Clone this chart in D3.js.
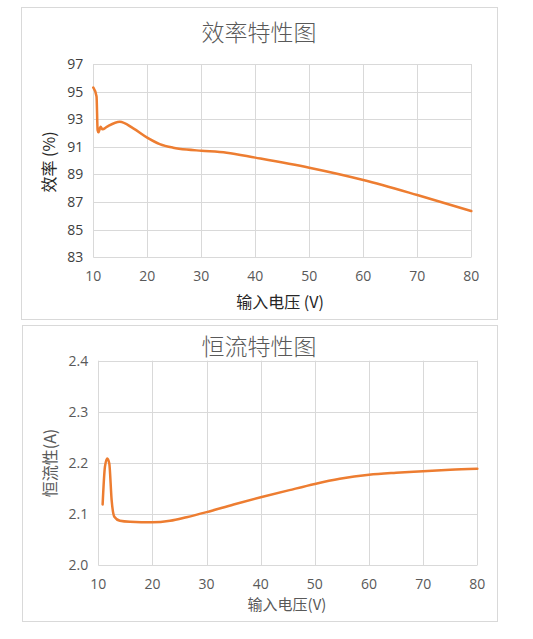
<!DOCTYPE html>
<html>
<head>
<meta charset="utf-8">
<script src="https://cdn.jsdelivr.net/npm/d3@7"></script>
<style>
  body { margin: 0; background: #fff; }
  text { font-family: "Open Sans", "Noto Sans CJK SC", sans-serif; }
</style>
</head>
<body>
<svg class="chart" width="533" height="639"></svg>
<script>
// efficiency curve (top)
var effVolts = [10, 10.6, 10.8, 10.95, 11.35, 11.7, 12.5, 14.9, 17.4, 19.9, 22.3, 24.8, 27.3, 30, 34.7, 40, 50, 60, 70, 80];
var effValues = [95.3, 94.65, 92.2, 92.05, 92.45, 92.27, 92.45, 92.82, 92.34, 91.69, 91.2, 90.94, 90.8, 90.72, 90.58, 90.22, 89.49, 88.6, 87.51, 86.35];
var effTicks = [83, 85, 87, 89, 91, 93, 95, 97];

// constant current curve (bottom)
var ccVolts = [10.8, 11.23, 11.66, 12.03, 12.46, 12.96, 14, 15.85, 20, 23.24, 26.3, 30, 35, 40, 45.3, 50, 54.6, 60, 65, 70, 75, 80];
var ccValues = [2.119, 2.193, 2.209, 2.199, 2.128, 2.095, 2.087, 2.085, 2.084, 2.087, 2.094, 2.104, 2.119, 2.133, 2.147, 2.159, 2.169, 2.177, 2.181, 2.184, 2.187, 2.189];
var ccTicks = [2.0, 2.1, 2.2, 2.3, 2.4];

var voltTicks = [10, 20, 30, 40, 50, 60, 70, 80];

var svg = d3.select(".chart");
var lineColor = "#ED7D31";
var gridColor = "#d9d9d9";

function drawChart(cfg) {
    var g = svg.append("g");

    // panel frame
    g.append("rect")
        .attr("x", cfg.box[0] + 0.5).attr("y", cfg.box[1] + 0.5)
        .attr("width", cfg.box[2]).attr("height", cfg.box[3])
        .attr("fill", "#fff").attr("stroke", gridColor);

    var x = d3.scaleLinear().domain([10, 80]).range([cfg.left, cfg.right]);
    var y = d3.scaleLinear().domain(cfg.yDomain).range([cfg.bottom, cfg.top]);

    // vertical grid
    g.append("g").selectAll("line").data(voltTicks).enter().append("line")
        .attr("x1", function(d) { return Math.round(x(d)) + 0.5; })
        .attr("x2", function(d) { return Math.round(x(d)) + 0.5; })
        .attr("y1", cfg.top).attr("y2", cfg.bottom)
        .attr("stroke", gridColor);

    // horizontal grid
    g.append("g").selectAll("line").data(cfg.yTicks).enter().append("line")
        .attr("x1", cfg.left).attr("x2", cfg.right)
        .attr("y1", function(d) { return Math.round(y(d)) + 0.5; })
        .attr("y2", function(d) { return Math.round(y(d)) + 0.5; })
        .attr("stroke", gridColor);

    // tick labels
    g.append("g").selectAll("text").data(cfg.yTicks).enter().append("text")
        .attr("x", cfg.left - 10)
        .attr("y", function(d) { return y(d); })
        .attr("dy", "0.35em")
        .attr("text-anchor", "end")
        .attr("font-size", 14)
        .attr("fill", cfg.tickColor)
        .text(function(d) { return cfg.yFormat(d); });

    g.append("g").selectAll("text").data(voltTicks).enter().append("text")
        .attr("x", function(d) { return x(d); })
        .attr("y", cfg.xTickY)
        .attr("dy", "0.35em")
        .attr("text-anchor", "middle")
        .attr("font-size", 14)
        .attr("fill", "#595959")
        .text(function(d) { return d; });

    // titles
    g.append("text")
        .attr("x", 259).attr("y", cfg.titleY)
        .attr("dy", "0.35em")
        .attr("text-anchor", "middle")
        .attr("font-size", 23)
        .attr("fill", "#595959")
        .style("font-family", "'Noto Sans CJK SC', sans-serif")
        .style("font-weight", 300)
        .text(cfg.title);

    g.append("text")
        .attr("x", cfg.xTitleX).attr("y", cfg.xTitleY)
        .attr("dy", "0.35em")
        .attr("text-anchor", "middle")
        .attr("font-size", cfg.xTitleSize)
        .attr("fill", cfg.labelColor)
        .style("font-family", "'Noto Sans CJK SC', sans-serif")
        .text(cfg.xTitle);

    g.append("text")
        .attr("transform", "translate(" + cfg.yTitleX + "," + cfg.yTitleY + ") rotate(-90)")
        .attr("dy", "0.35em")
        .attr("text-anchor", "middle")
        .attr("font-size", 16)
        .attr("fill", cfg.labelColor)
        .style("font-family", "'Noto Sans CJK SC', sans-serif")
        .text(cfg.yTitle);

    // data line
    var pts = cfg.xs.map(function(v, i) { return [v, cfg.ys[i]]; });
    var line = d3.line()
        .x(function(d) { return x(d[0]); })
        .y(function(d) { return y(d[1]); })
        .curve(d3.curveMonotoneX);

    g.append("path")
        .datum(pts)
        .attr("d", line)
        .attr("fill", "none")
        .attr("stroke", lineColor)
        .attr("stroke-width", 2.5)
        .attr("stroke-linejoin", "round")
        .attr("stroke-linecap", "round");
}

drawChart({
    box: [21, 7, 476, 312],
    left: 93.3, right: 471.3, top: 64, bottom: 257.3,
    yDomain: [83, 97], yTicks: effTicks,
    yFormat: function(d) { return d; },
    xs: effVolts, ys: effValues,
    xTickY: 276, title: "效率特性图", titleY: 33,
    xTitle: "输入电压 (V)", xTitleX: 280, xTitleY: 302, xTitleSize: 16,
    yTitle: "效率 (%)", yTitleX: 49, yTitleY: 162,
    tickColor: "#404040", labelColor: "#262626"
});

drawChart({
    box: [22, 325, 475, 296],
    left: 98.3, right: 477.3, top: 360.7, bottom: 565.3,
    yDomain: [2.0, 2.4], yTicks: ccTicks,
    yFormat: d3.format(".1f"),
    xs: ccVolts, ys: ccValues,
    xTickY: 584, title: "恒流特性图", titleY: 347,
    xTitle: "输入电压(V)", xTitleX: 287, xTitleY: 605, xTitleSize: 15,
    yTitle: "恒流性(A)", yTitleX: 50, yTitleY: 463,
    tickColor: "#595959", labelColor: "#595959"
});
</script>
</body>
</html>
